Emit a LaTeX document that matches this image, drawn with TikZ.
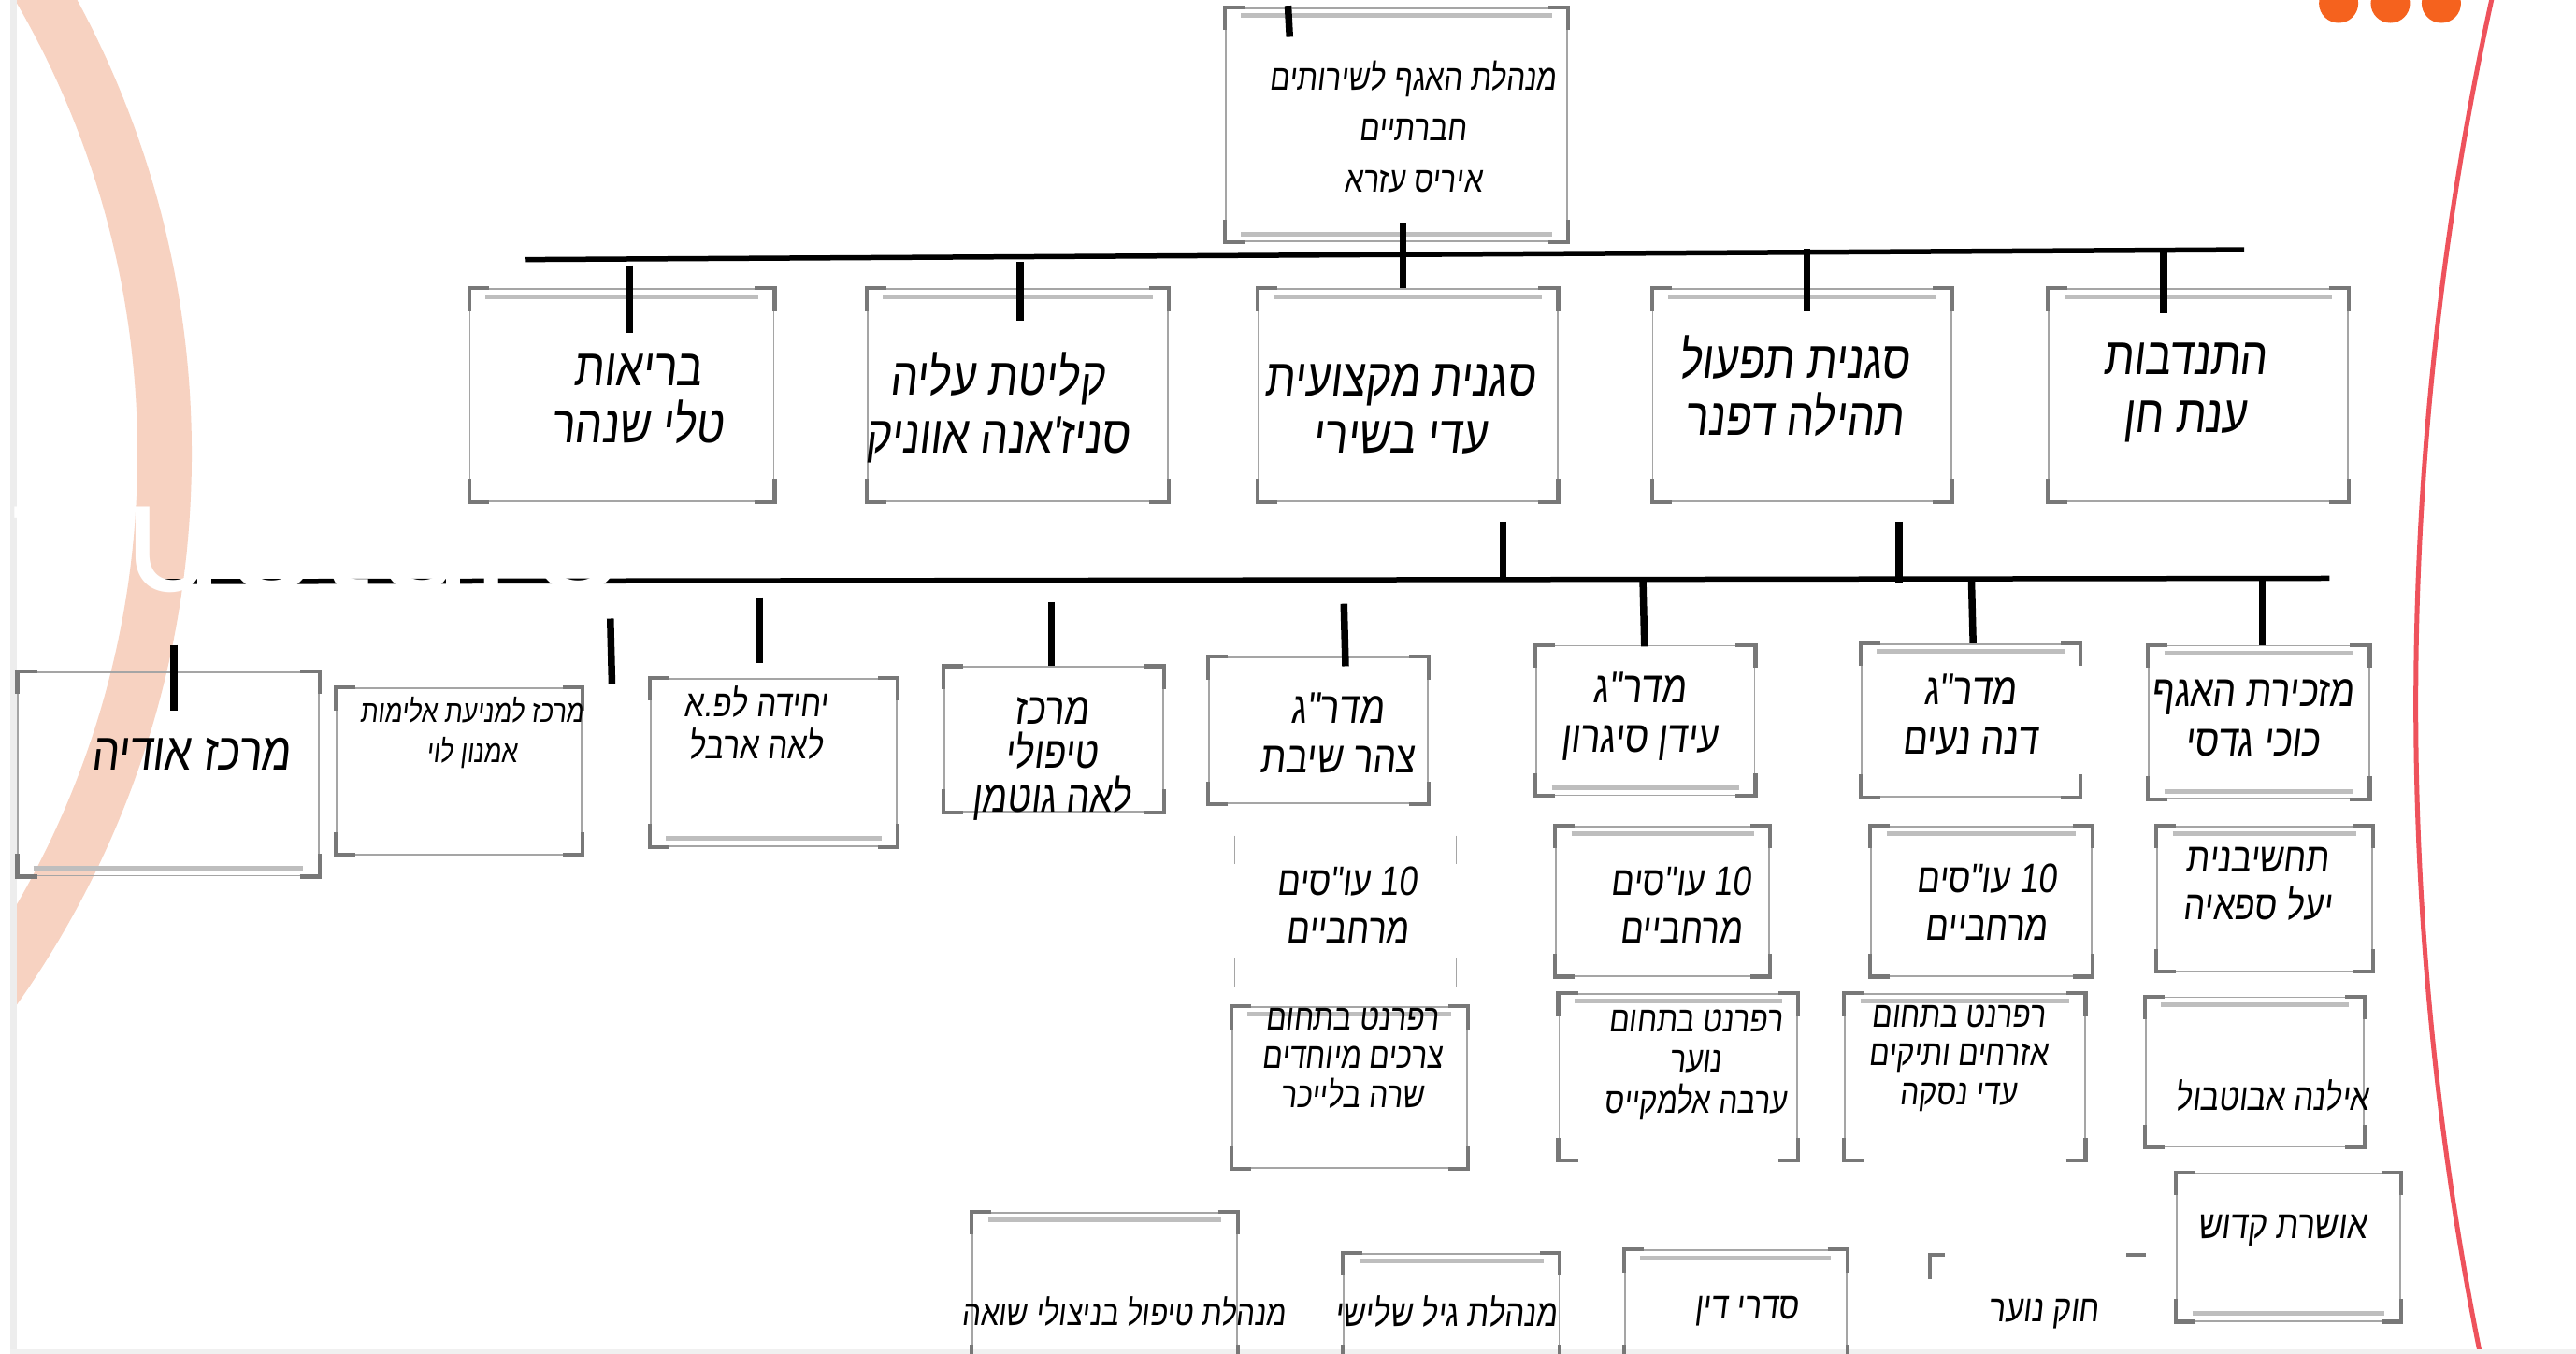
\documentclass[tikz,border=0pt]{standalone}
\usepackage{fontspec}
\usetikzlibrary{calc,fit}
\TeXXeTstate=1
\newfontfamily\heb[Script=Hebrew,FakeSlant=0.12,FakeStretch=0.82]{Liberation Sans}
\newfontfamily\popfont{Poppins}
\newcommand\RL[1]{\beginR #1\endR}
\definecolor{peach}{RGB}{247,210,193}
\definecolor{arcred}{RGB}{238,82,92}
\definecolor{dotor}{RGB}{245,98,30}
\definecolor{bxgray}{RGB}{165,165,165}
\definecolor{brgray}{RGB}{120,120,120}
\definecolor{dbgray}{RGB}{190,190,190}
\tikzset{
  bxs/.style={draw=bxgray, line width=0.18mm, inner sep=0pt},
  brks/.style={draw=brgray, line width=0.42mm},
  dbl/.style={draw=dbgray, line width=0.5mm},
  bus/.style={draw=black, line width=0.55mm},
  stub/.style={draw=black, line width=0.75mm},
  tt/.style n args={2}{font=\heb\fontsize{#1}{#2}\selectfont, align=center, inner sep=0pt, text=black},
}
\newcommand\brk[1]{%
  \draw[brks] ($(#1.north west)+(12,0)$) -- (#1.north west) -- ($(#1.north west)+(0,14)$);
  \draw[brks] ($(#1.north east)+(-12,0)$) -- (#1.north east) -- ($(#1.north east)+(0,14)$);
  \draw[brks] ($(#1.south west)+(12,0)$) -- (#1.south west) -- ($(#1.south west)+(0,-14)$);
  \draw[brks] ($(#1.south east)+(-12,0)$) -- (#1.south east) -- ($(#1.south east)+(0,-14)$);}
\newcommand\mkbox[5]{\node[bxs, fit={(#2,#3)(#4,#5)}] (#1) {};\brk{#1}}
\newcommand\dtop[1]{\draw[dbl] ($(#1.north west)+(10,5)$) -- ($(#1.north east)+(-10,5)$);}
\newcommand\dbot[1]{\draw[dbl] ($(#1.south west)+(10,-5)$) -- ($(#1.south east)+(-10,-5)$);}
\begin{document}
\begin{tikzpicture}[x=0.1757mm,y=-0.1757mm]
\useasboundingbox (0,0) rectangle (1568,824);
\fill[white] (0,0) rectangle (1568,824);
\clip (0,0) rectangle (1568,824);
% slide decorations
\begin{scope}
  \clip (10,0) rectangle (1568,824);
  \draw[peach, line width=5.8mm] (-464.4,276.2) circle [radius=99.2mm];
\end{scope}
\draw[arcred, line width=0.5mm] (3467.6,428.6) circle [radius=350.9mm];
\fill[dotor] (1423.5,2) circle [radius=2.1mm];
\fill[dotor] (1455,2) circle [radius=2.1mm];
\fill[dotor] (1486,2) circle [radius=2.1mm];
\fill[gray!14] (6,0) rectangle (10,824);
\fill[gray!12] (6,821) rectangle (1568,824);

% boxes
\mkbox{top}{746}{5}{954}{147} \dtop{top} \dbot{top}
\mkbox{B1}{286}{176}{471}{305} \dtop{B1}
\mkbox{B2}{528}{176}{711}{305} \dtop{B2}
\mkbox{B3}{766}{176}{948}{305} \dtop{B3}
\mkbox{B4}{1006}{176}{1188}{305} \dtop{B4}
\mkbox{B5}{1247}{176}{1429}{305} \dtop{B5}
\mkbox{R3a}{11}{409}{194}{533} \dbot{R3a}
\mkbox{R3b}{205}{419}{354}{520}
\mkbox{R3c}{396}{413}{546}{515} \dbot{R3c}
\mkbox{R3d}{575}{406}{708}{494}
\mkbox{R3e}{736}{400}{869}{489}
\mkbox{R3f}{935}{393}{1068}{484} \dbot{R3f}
\mkbox{R3g}{1133}{392}{1266}{485} \dtop{R3g}
\mkbox{R3h}{1308}{393}{1442}{486} \dtop{R3h} \dbot{R3h}
\node[inner sep=0pt, fit={(752,509)(886,600)}] (R4a) {};
\draw[bxs] (R4a.north west) -- ++(0,17) (R4a.south west) -- ++(0,-17)
           (R4a.north east) -- ++(0,17) (R4a.south east) -- ++(0,-17);
\mkbox{R4b}{947}{503}{1077}{594} \dtop{R4b}
\mkbox{R4c}{1139}{503}{1273}{594} \dtop{R4c}
\mkbox{R4d}{1313}{503}{1444}{591} \dtop{R4d}
\mkbox{R5a}{750}{613}{893}{711} \dtop{R5a}
\mkbox{R5b}{949}{605}{1094}{706} \dtop{R5b}
\mkbox{R5c}{1123}{605}{1269}{706} \dtop{R5c}
\mkbox{R5d}{1306}{607}{1439}{698} \dtop{R5d}
\mkbox{R6a}{1325}{714}{1461}{804} \dbot{R6a}
\mkbox{R6b}{592}{738}{753}{832} \dtop{R6b}
\mkbox{R6c}{818}{763}{949}{832} \dtop{R6c}
\mkbox{R6d}{989}{761}{1124}{832} \dtop{R6d}
\node[inner sep=0pt, fit={(1175,764)(1306,832)}] (R6e) {};
\draw[brks] ($(R6e.north west)+(9,0)$) -- (R6e.north west) -- ($(R6e.north west)+(0,15)$);
\draw[brks] ($(R6e.north east)+(-12,0)$) -- (R6e.north east);

% connectors
\coordinate (bus1L) at (320,158);
\coordinate (bus1R) at (1366,152);
\draw[bus] (bus1L) -- (bus1R);
\draw[stub] ($(top.north)+(-66,-1)$) -- ($(top.north)+(-65,18)$);
\draw[stub] ($(top.south)+(4,-12)$) -- ($(B3.north)+(-3,0)$);
\draw[stub] ($(B1.north)+(4.5,-14)$) -- ($(B1.north)+(4.5,27)$);
\draw[stub] ($(B2.north)+(1.5,-16)$) -- ($(B2.north)+(1.5,20)$);
\draw[stub] ($(B4.north)+(3,-24)$) -- ($(B4.north)+(3,14)$);
\draw[stub] ($(B5.north)+(-21,-24)$) -- ($(B5.north)+(-21,15)$);
\coordinate (bus2L) at (100,354);
\coordinate (bus2R) at (1418,352);
\draw[bus] (bus2L) -- (bus2R);
\draw[stub] ($(B3.south)+(58,12)$) -- ($(B3.south)+(58,48)$);
\draw[stub] ($(B4.south)+(59,12)$) -- ($(B4.south)+(59,49)$);
\draw[stub] ($(R3a.north)+(3.5,-16)$) -- ($(R3a.north)+(3.5,24)$);
\draw[stub] ($(R3b.north)+(92,-42)$) -- ($(R3b.north)+(93,-2)$);
\draw[stub] ($(R3c.north)+(-9,-49)$) -- ($(R3c.north)+(-9,-9)$);
\draw[stub] ($(R3d.north)+(-1.5,-39)$) -- ($(R3d.north)+(-1.5,0)$);
\draw[stub] ($(R3e.north)+(15.5,-32)$) -- ($(R3e.north)+(16.5,6)$);
\draw[stub] ($(R3f.north)+(-1.5,-40)$) -- ($(R3f.north)+(-0.5,1)$);
\draw[stub] ($(R3g.north)+(0.5,-39)$) -- ($(R3g.north)+(1.5,0)$);
\draw[stub] ($(R3h.north)+(2,-40)$) -- ($(R3h.north)+(2,0)$);

% texts
\node[tt={11}{15.5}] (top-t) at (860,77) {\RL{מנהלת האגף לשירותים}\\\RL{חברתיים}\\\RL{איריס עזרא}};
\node[tt={16}{17.5}] (B1-t) at (388,243) {\RL{בריאות}\\\RL{טלי שנהר}};
\node[tt={16}{17.5}] (B2-t) at (607,248) {\RL{קליטת עליה}\\\RL{סניז'אנה אווניק}};
\node[tt={16}{17.5}] (B3-t) at (852,249) {\RL{סגנית מקצועית}\\\RL{עדי בשירי}};
\node[tt={16}{17.5}] (B4-t) at (1092,235) {\RL{סגנית תפעול}\\\RL{תהילה דפנר}};
\node[tt={16}{17.5}] (B5-t) at (1330,239) {\RL{התנדבות}\\\RL{ענת חן}};
\node[tt={16}{17}] (R3a-t) at (116,459) {\RL{מרכז אודיה}};
\node[tt={9.5}{12.4}] (R3b-t) at (287,446) {\RL{מרכז למניעת אלימות}\\\RL{אמנון לוי}};
\node[tt={11.5}{13}] (R3c-t) at (460,440) {\RL{יחידה לפ.א}\\\RL{לאה ארבל}};
\node[tt={13.5}{13.4}] (R3d-t) at (640,462) {\RL{מרכז}\\\RL{טיפולי}\\\RL{לאה גוטמן}};
\node[tt={13.5}{15}] (R3e-t) at (814,446) {\RL{מדר"ג}\\\RL{צהר שיבת}};
\node[tt={13.5}{15}] (R3f-t) at (998,436) {\RL{מדר"ג}\\\RL{עידן סיגרון}};
\node[tt={13.5}{15}] (R3g-t) at (1199,435) {\RL{מדר"ג}\\\RL{דנה נעים}};
\node[tt={13.5}{15}] (R3h-t) at (1371,437) {\RL{מזכירת האגף}\\\RL{כוכי גדסי}};
\node[tt={12.5}{14.5}] (R4a-t) at (820,551) {\RL{\beginL 10\endL{} עו"סים}\\\RL{מרחביים}};
\node[tt={12.5}{14.5}] (R4b-t) at (1023,551) {\RL{\beginL 10\endL{} עו"סים}\\\RL{מרחביים}};
\node[tt={12.5}{14.5}] (R4c-t) at (1209,549) {\RL{\beginL 10\endL{} עו"סים}\\\RL{מרחביים}};
\node[tt={12.5}{14.5}] (R4d-t) at (1374,538) {\RL{תחשיבנית}\\\RL{יעל ספאיה}};
\node[tt={11}{11.8}] (R5a-t) at (823,644) {\RL{רפרנט בתחום}\\\RL{צרכים מיוחדים}\\\RL{שרה בלייכר}};
\node[tt={11}{12.4}] (R5b-t) at (1032,648) {\RL{רפרנט בתחום}\\\RL{נוער}\\\RL{ערבה אלמקייס}};
\node[tt={11}{11.8}] (R5c-t) at (1192,644) {\RL{רפרנט בתחום}\\\RL{אזרחים ותיקים}\\\RL{עדי נסקה}};
\node[tt={11.5}{13}] (R5d-t) at (1383,667) {\RL{אילנה אבוטבול}};
\node[tt={12}{13}] (R6a-t) at (1389,749) {\RL{אושרת קדוש}};
\node[tt={10.8}{13}] (R6b-t) at (684,798) {\RL{מנהלת טיפול בניצולי שואה}};
\node[tt={11.5}{13}] (R6c-t) at (880,798) {\RL{מנהלת גיל שלישי}};
\node[tt={11.5}{13}] (R6d-t) at (1063,798) {\RL{סדרי דין}};
\node[tt={11.5}{13}] (R6e-t) at (1244,800) {\RL{חוק נוער}};

% white slide title overlay
\node[anchor=base west, inner sep=0pt, text=white, font=\popfont\fontsize{47}{50}\selectfont] (ttl) at (-49,360) {Structure};
\end{tikzpicture}
\end{document}
